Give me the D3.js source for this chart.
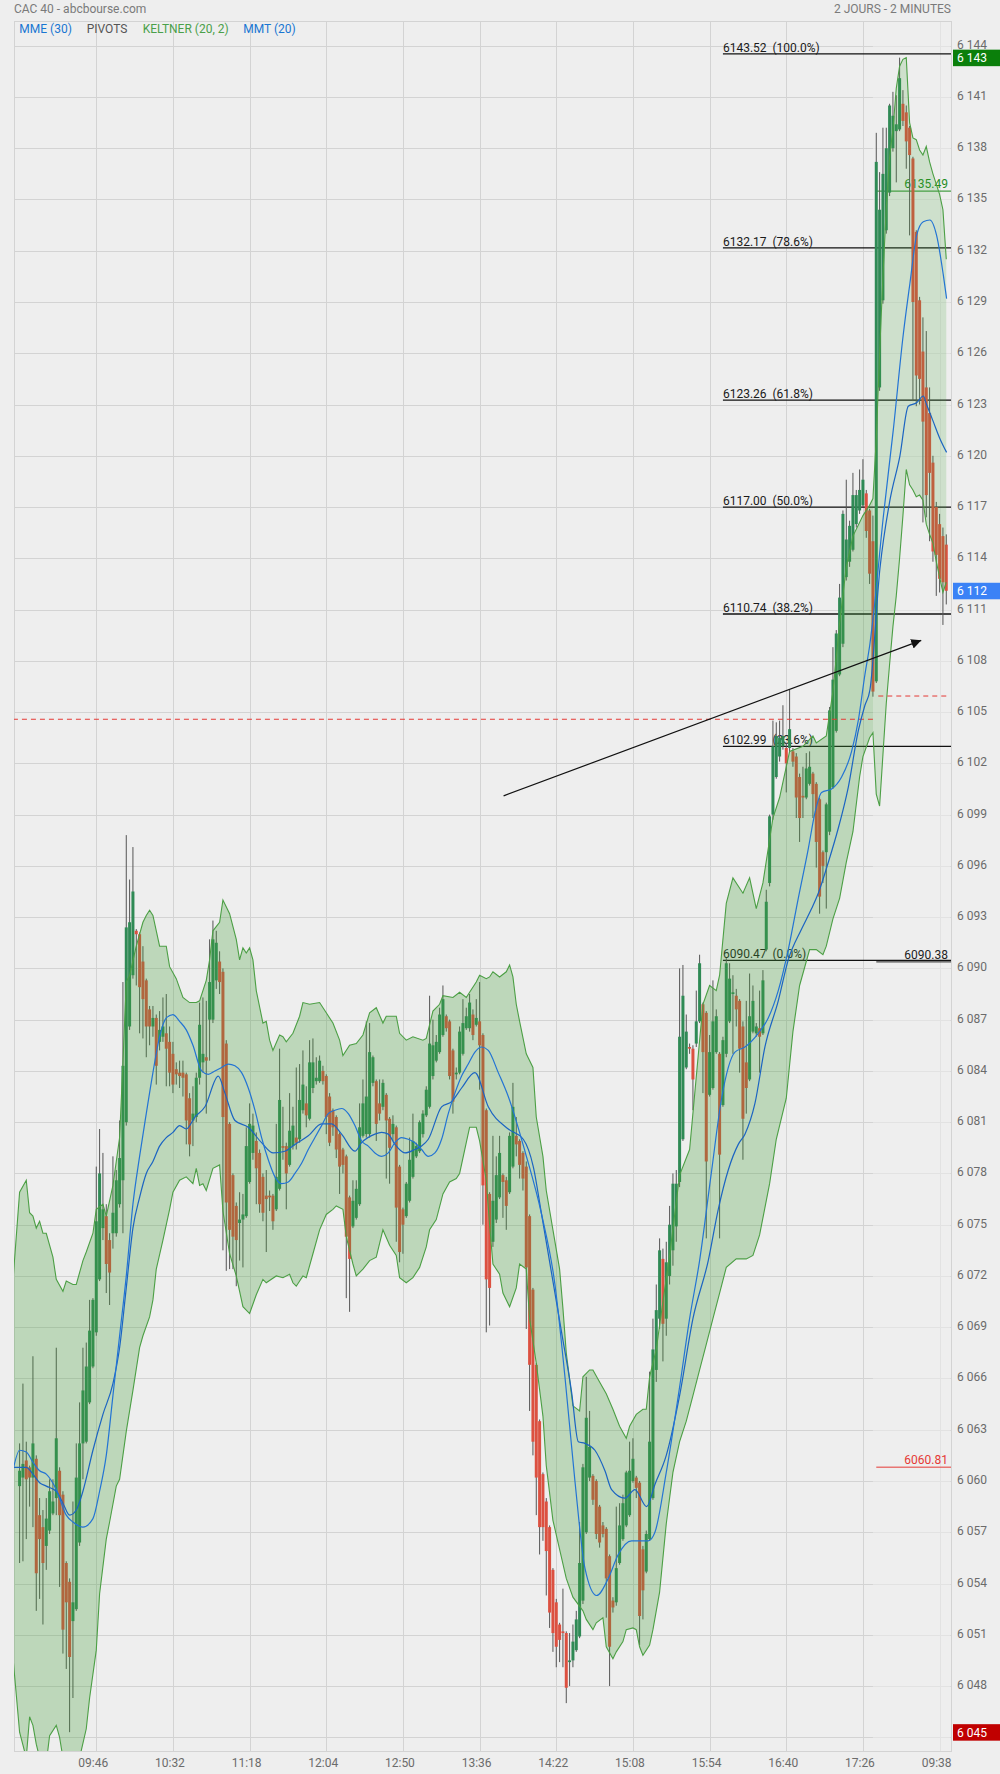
<!DOCTYPE html>
<html><head><meta charset="utf-8">
<script src="https://cdn.jsdelivr.net/npm/d3@7"></script>
<style>
body{margin:0;background:#eeeeee;}
svg{display:block;font-family:Roboto,"Noto Sans",sans-serif;}
</style>
</head><body><svg id="c" width="1000" height="1774"></svg>
<script>
// ---------------- DATA ----------------
const openP = [6059.7,6060.2,6061.2,6060.8,6060.2,6061.3,6058.0,6057.3,6056.2,6057.1,6058.1,6059.0,6060.6,6059.2,6055.2,6054.1,6051.8,6052.5,6056.4,6062.2,
6062.3,6064.6,6066.7,6068.7,6071.8,6074.8,6075.5,6074.1,6074.5,6074.5,6076.2,6077.6,6081.0,6086.6,6089.6,6092.2,6092.0,6090.4,6089.3,6087.6,
6086.6,6087.1,6085.7,6086.0,6086.2,6085.7,6085.0,6084.1,6083.9,6083.9,6083.8,6082.4,6081.1,6081.3,6083.6,6084.5,6084.8,6087.0,6087.0,6089.3,
6090.4,6089.8,6085.6,6080.9,6077.9,6076.1,6075.1,6075.3,6075.5,6077.5,6079.2,6079.9,6079.2,6077.8,6076.7,6076.7,6076.7,6075.9,6077.1,6079.6,
6079.6,6078.5,6079.6,6080.1,6080.0,6081.7,6082.1,6081.2,6083.0,6083.4,6083.4,6084.0,6083.7,6082.5,6081.7,6081.3,6080.3,6079.4,6079.0,6076.6,
6074.9,6075.4,6076.2,6080.2,6080.3,6080.3,6083.3,6083.4,6082.1,6081.9,6082.6,6081.2,6080.3,6080.7,6078.4,6075.9,6075.5,6076.4,6077.8,6079.0,
6079.3,6080.3,6081.4,6081.9,6083.7,6084.6,6085.1,6086.1,6087.2,6086.9,6085.2,6083.8,6083.9,6085.0,6086.5,6086.5,6087.3,6086.7,6086.9,6086.1,
6081.7,6076.8,6074.0,6075.3,6076.6,6077.9,6077.6,6076.9,6078.4,6080.2,6079.9,6079.2,6078.4,6075.5,6071.2,6066.8,6063.5,6060.4,6058.8,6057.3,
6054.8,6052.9,6051.6,6051.2,6051.1,6049.4,6049.5,6050.1,6050.9,6053.0,6057.0,6060.2,6060.3,6060.0,6058.5,6057.4,6057.2,6055.6,6053.0,6052.9,
6055.2,6056.6,6057.4,6058.0,6060.0,6060.2,6059.9,6056.0,6054.7,6056.6,6059.0,6066.5,6069.5,6073.0,6069.5,6072.0,6073.5,6074.9,6077.5,6080.0,
6084.2,6085.4,6085.3,6085.6,6086.9,6087.9,6087.4,6082.6,6083.0,6085.1,6085.0,6082.0,6085.0,6086.9,6088.5,6088.4,6088.1,6086.6,6084.5,6083.5,
6086.3,6086.2,6086.5,6086.2,6091.1,6095.0,6099.0,6101.2,6102.4,6103.0,6102.9,6102.9,6102.7,6102.4,6101.2,6100.1,6100.0,6100.8,6101.4,6100.8,
6099.9,6096.8,6096.8,6098.0,6100.6,6103.9,6107.2,6109.0,6112.9,6113.8,6114.5,6116.0,6116.8,6117.1,6117.8,6116.8,6115.0,6106.8,6124.0,6129.1,
6133.2,6135.4,6138.0,6139.0,6139.1,6140.6,6140.1,6139.2,6137.4,6133.1,6129.1,6126.1,6124.0,6122.5,6119.6,6117.0,6116.0,6115.3,6114.8];

const highP = [6062.2,6065.7,6062.3,6060.9,6067.3,6061.5,6059.0,6058.3,6059.0,6060.1,6060.1,6067.8,6060.8,6059.4,6055.3,6054.3,6058.8,6062.2,6064.6,6067.8,
6068.1,6070.6,6070.7,6078.4,6080.6,6079.2,6076.2,6074.5,6079.0,6078.2,6081.1,6089.2,6097.8,6095.2,6097.1,6092.3,6092.1,6091.3,6089.4,6087.8,
6087.8,6087.3,6087.5,6088.3,6088.5,6086.6,6085.7,6084.5,6084.6,6084.6,6083.9,6082.7,6083.1,6083.9,6088.0,6088.3,6088.1,6091.7,6092.8,6092.2,
6091.0,6090.0,6085.8,6081.0,6078.0,6076.3,6076.9,6076.8,6080.7,6082.1,6081.5,6080.4,6079.4,6078.0,6078.2,6077.0,6076.8,6080.9,6085.3,6081.9,
6079.8,6082.7,6081.9,6084.2,6084.4,6085.2,6083.1,6085.8,6085.9,6084.8,6084.9,6084.3,6083.8,6082.7,6081.8,6081.4,6080.4,6079.5,6079.1,6076.7,
6077.6,6077.6,6082.1,6083.5,6086.9,6086.8,6084.9,6083.5,6083.5,6083.5,6082.7,6081.3,6081.4,6080.8,6078.5,6076.0,6077.5,6080.1,6081.5,6079.8,
6081.1,6081.7,6083.1,6088.4,6087.0,6086.1,6087.7,6089.0,6087.3,6087.0,6085.3,6084.2,6086.6,6088.2,6087.7,6088.5,6087.6,6088.2,6089.2,6086.2,
6081.8,6076.9,6080.2,6079.0,6080.2,6078.0,6077.8,6080.4,6083.3,6081.3,6080.0,6079.3,6078.7,6075.6,6071.3,6066.9,6063.6,6060.5,6059.0,6057.4,
6054.9,6053.1,6051.7,6053.7,6051.2,6051.1,6051.6,6052.4,6057.6,6061.0,6066.1,6064.1,6060.4,6060.1,6058.6,6057.6,6057.3,6055.7,6053.2,6058.5,
6058.7,6059.2,6060.6,6062.3,6062.5,6060.3,6060.0,6056.2,6057.1,6066.4,6069.5,6071.5,6074.2,6073.6,6074.0,6076.1,6078.0,6078.2,6090.0,6090.2,
6087.3,6085.6,6085.5,6088.7,6090.8,6088.0,6087.5,6086.1,6089.3,6087.6,6085.1,6086.0,6090.6,6090.3,6089.6,6088.8,6088.2,6086.9,6088.1,6089.7,
6089.0,6086.8,6088.7,6089.9,6094.6,6099.0,6104.5,6104.4,6104.5,6105.4,6103.2,6106.3,6102.9,6102.6,6101.4,6101.8,6102.6,6102.7,6101.5,6100.9,
6100.0,6096.9,6099.7,6105.3,6108.8,6109.8,6112.5,6116.8,6118.6,6116.2,6119.0,6118.0,6119.2,6119.8,6118.0,6116.9,6116.5,6138.9,6136.6,6139.2,
6139.2,6140.6,6141.3,6141.1,6143.3,6141.4,6140.5,6139.3,6137.5,6133.2,6129.3,6128.1,6127.3,6124.0,6120.0,6117.3,6116.6,6115.8,6115.4];

const lowP = [6055.2,6055.3,6056.6,6058.5,6057.3,6052.4,6053.1,6051.6,6054.8,6056.9,6058.0,6058.0,6053.8,6049.9,6049.0,6045.3,6047.3,6052.4,6056.2,6060.1,
6062.2,6064.5,6066.6,6068.5,6071.7,6074.1,6071.0,6070.3,6073.6,6074.3,6076.0,6074.5,6080.8,6086.4,6089.4,6089.0,6086.2,6085.9,6084.8,6085.5,
6086.0,6083.2,6085.2,6085.7,6083.1,6083.1,6082.7,6083.2,6083.0,6082.5,6079.7,6079.0,6079.6,6081.0,6083.2,6083.9,6081.5,6084.6,6086.8,6088.8,
6088.5,6073.5,6072.3,6072.4,6072.4,6071.4,6072.9,6072.5,6075.4,6077.4,6078.8,6076.2,6075.7,6075.2,6073.4,6075.8,6074.7,6075.8,6077.0,6078.8,
6075.9,6078.4,6079.4,6079.4,6079.8,6081.5,6080.7,6081.1,6082.7,6083.2,6083.3,6083.2,6080.3,6079.6,6080.2,6078.9,6076.8,6078.0,6070.7,6069.9,
6074.8,6075.3,6076.1,6080.1,6080.1,6080.1,6083.1,6079.9,6081.1,6081.7,6077.7,6077.4,6079.9,6074.0,6072.8,6073.3,6075.4,6076.3,6077.7,6078.9,
6079.2,6080.1,6081.3,6081.8,6083.5,6084.5,6085.0,6086.0,6086.3,6083.5,6081.5,6083.5,6083.8,6084.9,6086.4,6086.3,6085.8,6086.6,6082.9,6075.0,
6068.7,6069.1,6073.7,6075.1,6076.5,6075.4,6074.7,6076.8,6078.3,6079.0,6077.7,6077.0,6068.9,6064.1,6061.5,6058.0,6055.7,6056.5,6053.3,6051.4,
6050.0,6049.1,6049.4,6049.1,6047.0,6048.0,6049.1,6050.0,6050.8,6052.8,6056.9,6060.0,6058.6,6056.6,6056.1,6056.7,6052.0,6048.0,6052.3,6052.7,
6055.1,6056.5,6057.3,6057.9,6059.9,6059.0,6050.4,6051.9,6054.6,6056.5,6058.9,6065.8,6068.9,6067.0,6068.5,6071.5,6072.6,6074.0,6077.2,6079.9,
6084.1,6085.0,6081.7,6085.4,6086.8,6082.7,6074.2,6082.5,6082.9,6085.0,6074.2,6081.9,6084.8,6086.8,6085.0,6086.6,6083.9,6078.8,6081.5,6083.4,
6086.2,6086.0,6083.9,6086.1,6091.0,6094.8,6098.7,6101.1,6102.1,6102.8,6100.3,6102.7,6101.8,6098.8,6097.4,6098.8,6099.9,6100.7,6098.8,6095.9,
6093.2,6095.0,6093.5,6097.8,6100.5,6103.8,6107.1,6108.8,6112.7,6113.5,6114.4,6115.8,6116.6,6117.0,6115.2,6112.5,6105.9,6106.7,6123.8,6128.9,
6133.0,6135.2,6137.8,6136.0,6139.0,6139.3,6136.8,6132.9,6123.2,6122.9,6123.0,6116.1,6116.4,6115.0,6113.8,6111.8,6112.0,6110.1,6111.3];

const closeP = [6060.6,6061.0,6060.1,6060.2,6062.2,6054.6,6056.6,6055.2,6057.8,6059.4,6058.8,6062.5,6058.0,6051.3,6052.9,6049.7,6052.9,6060.2,6062.2,6065.3,
6066.7,6068.8,6070.6,6075.2,6078.0,6075.9,6072.7,6072.2,6075.7,6077.6,6078.9,6084.3,6092.4,6092.7,6094.5,6092.0,6088.9,6088.2,6086.6,6086.6,
6087.1,6084.3,6086.4,6086.6,6085.3,6083.9,6083.2,6083.8,6083.7,6083.6,6081.1,6079.7,6081.5,6083.6,6086.7,6085.0,6084.6,6089.2,6091.7,6091.5,
6089.2,6081.3,6076.3,6074.7,6074.3,6074.1,6075.3,6075.6,6079.6,6080.9,6080.8,6078.3,6076.2,6075.7,6076.5,6076.6,6075.2,6077.8,6082.3,6079.5,
6078.0,6080.5,6080.8,6079.8,6082.3,6083.2,6081.4,6084.5,6084.5,6083.6,6084.6,6083.4,6081.3,6079.8,6080.7,6079.4,6078.4,6078.5,6074.3,6073.0,
6076.4,6077.1,6080.7,6082.1,6082.5,6085.1,6084.8,6080.9,6081.5,6083.3,6081.1,6079.5,6080.9,6076.0,6073.4,6075.0,6077.4,6078.8,6079.9,6079.6,
6081.0,6081.5,6082.9,6085.6,6085.5,6085.7,6087.3,6088.2,6086.5,6083.7,6082.2,6083.9,6086.3,6086.8,6087.2,6088.0,6086.1,6087.1,6085.5,6077.3,
6071.8,6071.3,6076.4,6077.9,6079.2,6077.5,6076.1,6080.2,6081.9,6079.7,6078.5,6077.7,6072.5,6066.8,6062.3,6060.2,6057.3,6057.3,6055.9,6052.3,
6051.1,6050.3,6050.7,6051.1,6047.9,6049.5,6050.6,6051.9,6055.2,6060.8,6063.7,6062.0,6058.9,6056.9,6056.4,6056.9,6054.3,6050.3,6052.6,6054.9,
6057.4,6058.7,6060.5,6060.6,6061.3,6059.6,6052.1,6053.6,6056.9,6062.3,6067.7,6070.0,6073.5,6069.2,6072.8,6075.0,6077.4,6077.4,6086.0,6088.4,
6086.3,6085.3,6083.5,6086.9,6090.3,6085.1,6078.7,6085.1,6086.9,6087.2,6079.1,6085.8,6090.3,6089.4,6088.6,6087.6,6085.3,6081.2,6083.0,6087.2,
6088.1,6086.6,6086.0,6089.3,6093.9,6098.9,6103.0,6103.6,6103.5,6103.6,6102.0,6104.0,6102.1,6100.0,6098.8,6100.0,6101.7,6101.8,6100.2,6097.4,
6094.2,6096.0,6099.6,6105.1,6106.9,6109.6,6111.7,6116.6,6115.1,6115.9,6117.7,6117.7,6118.0,6118.6,6115.6,6113.1,6106.2,6137.2,6134.4,6136.5,
6138.0,6140.5,6139.9,6139.4,6142.1,6139.6,6138.4,6137.6,6129.0,6124.7,6124.5,6122.0,6117.7,6119.0,6114.4,6114.2,6112.8,6112.6,6112.1];

// Keltner (20, 2) band edges, [candle index, price]
const keltnerUpper = [[-2,6071.7],[0,6076.9],[2,6077.6],[3,6075.7],[4,6075.5],[5,6074.8],[6,6075.2],[7,6074.5],[8,6074.5],[10,6073.1],[11,6071.8],[13,6071.1],[14,6071.7],[16,6071.5],[17,6071.5],[19,6072.9],[20,6073.4],[22,6074.5],[23,6075.9],[25,6076.2],[26,6075.5],[28,6077.3],[29,6078.7],[30,6080.1],[31,6084.5],[32,6089.2],[33,6089.6],[35,6091.3],[37,6092.7],[38,6093.1],[39,6093.4],[40,6093.1],[42,6091.3],[44,6091.3],[45,6090.1],[47,6089.4],[49,6088.3],[51,6088.0],[53,6088.0],[54,6088.1],[56,6089.3],[57,6090.5],[58,6092.2],[60,6092.7],[61,6094.0],[63,6093.2],[65,6091.7],[66,6090.5],[67,6091.2],[68,6090.9],[69,6091.2],[70,6090.5],[71,6088.7],[73,6086.8],[74,6086.9],[75,6085.8],[76,6085.2],[78,6086.1],[79,6086.0],[80,6085.7],[82,6086.2],[84,6087.2],[85,6088.0],[87,6087.9],[90,6088.0],[92,6087.4],[94,6086.8],[96,6085.8],[97,6084.9],[99,6085.5],[101,6085.6],[103,6086.1],[105,6087.4],[107,6087.7],[109,6086.8],[110,6087.2],[113,6087.2],[114,6086.2],[116,6085.8],[118,6086.0],[121,6085.8],[122,6085.9],[124,6087.5],[126,6087.9],[127,6088.4],[130,6088.3],[132,6088.6],[134,6088.3],[135,6088.6],[137,6089.2],[138,6089.6],[140,6089.4],[141,6089.5],[142,6089.8],[144,6089.5],[146,6089.8],[147,6090.2],[148,6089.5],[149,6087.9],[150,6086.9],[152,6085.0],[154,6084.2],[155,6081.3],[157,6079.0],[158,6077.0],[160,6074.7],[162,6072.4],[163,6070.1],[164,6067.5],[166,6064.4],[168,6064.1],[169,6066.1],[171,6066.5],[172,6066.5],[174,6065.8],[176,6065.1],[178,6064.2],[180,6063.2],[182,6062.5],[183,6063.2],[185,6063.9],[187,6064.2],[188,6064.2],[189,6066.1],[191,6067.7],[193,6070.5],[195,6073.2],[198,6077.9],[201,6079.4],[205,6087.9],[207,6089.0],[209,6088.7],[210,6089.6],[212,6093.8],[214,6095.3],[217,6094.4],[219,6095.3],[221,6093.5],[223,6095.0],[226,6098.8],[228,6100.0],[231,6102.7],[235,6103.0],[238,6103.6],[239,6103.2],[242,6103.6],[244,6106.2],[246,6110.2],[248,6113.5],[250,6115.3],[253,6116.5],[255,6117.1],[256,6117.5],[257,6121.0],[258,6126.0],[259,6130.5],[260,6134.5],[261,6137.5],[262,6139.1],[263,6141.5],[264,6142.8],[265,6143.2],[266,6143.3],[267,6139.5],[268,6138.6],[269,6138.5],[270,6137.9],[271,6137.6],[272,6138.1],[273,6137.2],[274,6136.5],[275,6135.9],[276,6135.3],[277,6134.4],[278,6131.5]];
const keltnerLower = [[-2,6049.7],[0,6045.3],[2,6043.8],[3,6046.2],[4,6045.7],[5,6044.6],[6,6043.8],[8,6043.5],[9,6045.1],[11,6045.7],[12,6045.0],[13,6043.8],[15,6043.5],[17,6043.6],[18,6043.8],[20,6045.5],[21,6047.3],[23,6050.1],[24,6053.4],[26,6056.6],[27,6057.6],[29,6059.7],[30,6060.1],[32,6062.9],[34,6065.3],[36,6067.8],[37,6068.5],[39,6069.6],[40,6070.6],[41,6072.4],[43,6074.1],[45,6075.9],[46,6076.9],[48,6077.6],[50,6077.8],[52,6077.4],[53,6078.3],[54,6077.3],[55,6077.4],[56,6077.0],[58,6078.3],[60,6078.5],[61,6075.8],[63,6073.3],[65,6072.0],[67,6070.2],[69,6069.8],[71,6070.9],[73,6071.8],[74,6071.6],[77,6072.0],[79,6071.9],[81,6072.1],[82,6071.6],[83,6071.4],[85,6072.0],[86,6071.9],[88,6073.3],[90,6074.7],[92,6075.6],[94,6075.9],[95,6076.1],[97,6075.9],[98,6074.3],[100,6072.7],[101,6072.0],[103,6072.4],[105,6072.9],[107,6073.1],[108,6073.9],[109,6074.7],[111,6073.8],[113,6073.2],[114,6071.9],[116,6071.6],[118,6071.9],[120,6072.5],[122,6073.7],[123,6074.7],[125,6075.3],[127,6076.8],[129,6077.5],[131,6077.7],[132,6078.0],[134,6079.8],[135,6080.7],[137,6080.7],[138,6079.9],[140,6077.6],[141,6075.0],[142,6072.7],[144,6072.1],[145,6071.0],[147,6070.2],[149,6071.3],[150,6072.7],[152,6072.4],[153,6069.5],[155,6066.9],[157,6063.8],[158,6060.9],[160,6057.7],[162,6056.0],[164,6054.3],[166,6053.2],[169,6052.4],[170,6051.9],[172,6051.3],[173,6051.7],[175,6052.0],[176,6050.3],[178,6049.6],[179,6050.0],[181,6050.6],[182,6051.3],[184,6051.4],[185,6051.3],[186,6050.3],[187,6049.8],[189,6050.4],[190,6051.3],[192,6053.5],[194,6057.5],[196,6060.5],[198,6062.3],[200,6063.5],[202,6065.0],[204,6066.5],[206,6068.0],[208,6069.5],[210,6071.0],[212,6072.5],[215,6073.0],[218,6073.0],[220,6073.2],[222,6074.4],[225,6077.4],[227,6080.0],[230,6082.4],[232,6086.3],[234,6089.0],[237,6091.1],[239,6091.1],[241,6090.8],[242,6091.3],[244,6092.9],[246,6094.1],[248,6096.2],[250,6098.0],[252,6101.2],[253,6102.4],[255,6103.5],[256,6103.8],[257,6100.2],[258,6099.5],[259,6102.5],[260,6105.5],[261,6107.8],[262,6110.0],[263,6111.8],[264,6114.0],[265,6116.5],[266,6119.2],[267,6118.3],[268,6118.0],[269,6117.6],[270,6117.7],[271,6117.4],[272,6116.0],[273,6115.4],[274,6114.9],[275,6113.8],[276,6112.9],[277,6112.0],[278,6112.6]];

// MMT (20)
const mmtLine = [[-2,6060.6],[0,6061.8],[2,6061.7],[4,6061.1],[6,6060.6],[8,6060.4],[11,6059.5],[14,6058.0],[16,6057.6],[19,6057.3],[22,6057.8],[24,6059.4],[26,6061.5],[28,6065.0],[30,6068.5],[32,6072.0],[34,6076.2],[36,6079.0],[38,6081.5],[40,6083.9],[42,6086.0],[44,6087.1],[46,6087.3],[48,6086.9],[50,6086.4],[52,6085.5],[54.6,6084.0],[56.6,6083.8],[58.6,6084.0],[60.6,6084.2],[62.6,6084.4],[64.6,6084.3],[66.6,6083.9],[68.6,6083.0],[70.6,6081.7],[72.6,6080.1],[74.6,6078.8],[76.6,6077.8],[78.6,6077.4],[80.6,6077.5],[82.6,6078.0],[84.6,6078.6],[86.6,6079.4],[88.6,6080.1],[90.6,6080.8],[92.6,6081.5],[94.6,6081.7],[96.6,6081.8],[98.6,6081.5],[100.6,6080.8],[102.6,6079.9],[104.6,6079.6],[106.6,6079.2],[108.6,6079.0],[110.6,6079.2],[112.6,6079.8],[114.6,6080.1],[116.6,6080.0],[118.6,6079.8],[120.6,6079.4],[122.6,6079.0],[124.6,6079.2],[126.6,6080.0],[128.6,6081.5],[130.6,6082.7],[132.6,6083.7],[134.6,6084.4],[136.6,6085.1],[138.6,6085.4],[140.6,6085.2],[143.6,6083.9],[146.6,6082.5],[151.6,6079.3],[156.6,6075.6],[160.6,6071.5],[163.6,6066.1],[166.6,6060.0],[169.6,6054.9],[173.1,6053.3],[176.6,6054.3],[179.6,6055.7],[183.6,6056.5],[188.6,6056.5],[190.6,6057.0],[194,6060.5],[198,6065.5],[201,6069.5],[204,6072.9],[207.5,6078.0],[210.6,6082.4],[214.6,6085.1],[217.6,6085.4],[221.6,6086.2],[224.6,6087.1],[227.6,6088.7],[230.6,6091.1],[233.6,6094.1],[236.6,6097.0],[238.6,6099.1],[240.6,6100.3],[243.6,6100.5],[246.6,6101.2],[249.6,6102.7],[251.6,6104.5],[253.6,6107.2],[255.1,6109.0],[256.1,6110.6],[259.1,6116.4],[262.1,6121.5],[265.1,6127.1],[267.1,6130.1],[269.1,6132.9],[271.1,6133.7],[273.1,6133.8],[275.1,6132.9],[277.1,6130.6],[278.1,6129.2]];
// MME (30)
const mmeLine = [[-2,6060.8],[2,6060.8],[4,6060.4],[6,6059.9],[8,6059.7],[11,6059.4],[13,6058.7],[15,6058.0],[17,6058.3],[19,6059.4],[22,6061.8],[25,6063.9],[28,6065.7],[30,6067.8],[32,6071.3],[34,6074.8],[36,6076.6],[38,6078.0],[40,6078.7],[42,6079.6],[44,6080.1],[46,6080.4],[48,6080.8],[50,6080.6],[52.6,6081.3],[55.6,6081.9],[59.6,6083.7],[61.6,6082.7],[64.6,6081.1],[68.6,6080.7],[72.6,6079.8],[76.1,6079.2],[79.6,6079.3],[82.6,6079.7],[86.6,6080.2],[90.6,6080.9],[93.6,6080.9],[96.6,6080.3],[100.6,6079.3],[102.6,6079.8],[106.6,6080.3],[108.6,6080.4],[110.6,6080.3],[112.6,6079.7],[115.6,6079.2],[118.6,6079.4],[120.6,6079.6],[122.6,6080.0],[126.6,6081.9],[129.6,6082.2],[132.6,6083.0],[136.6,6083.9],[140.6,6081.9],[146.6,6080.6],[151.1,6080.0],[154.1,6078.4],[156.6,6075.6],[162.6,6068.7],[165.6,6065.2],[167.6,6062.3],[169.6,6062.2],[172.6,6061.8],[175.6,6060.6],[177.6,6059.5],[181.6,6059.0],[184.6,6059.5],[188.1,6058.5],[190.6,6059.8],[194,6061.5],[198,6065.0],[202,6069.5],[206.6,6072.9],[209.6,6075.9],[212.6,6078.2],[215.6,6079.7],[217.6,6080.3],[220.6,6082.1],[223.6,6085.4],[227.6,6088.1],[230.6,6090.5],[234.6,6092.3],[237.6,6093.5],[239.6,6094.4],[242.6,6096.2],[245.6,6098.2],[248.6,6100.6],[251.6,6103.9],[253.6,6105.4],[255.1,6106.3],[258.1,6113.4],[261.1,6117.4],[264.1,6120.0],[266.6,6122.9],[269.1,6123.1],[271.1,6123.5],[272.1,6123.0],[274.1,6122.0],[276.1,6121.0],[278.1,6120.2]];

// Fibonacci retracement
const fibValues = [6143.52, 6132.17, 6123.26, 6117.00, 6110.74, 6102.99, 6090.47];
const fibLabels = ["100.0%", "78.6%", "61.8%", "50.0%", "38.2%", "23.6%", "0.0%"];
const fibStartIdx = 211;

// Pivots (day 2)
const pivotValues = [6135.49, 6090.38, 6060.81];
const pivotColors = ["#1e8c1e", "#222222", "#e53935"];
const pivotStartIdx = 257;

// Previous closes (red dashed)
const prevCloseValues = [6104.58, 6105.94];
const prevCloseRanges = [[-2, 256], [257.6, 278]];

// Trend arrow [index, price]
const arrowPts = [[145.2, 6100.1], [270.5, 6109.2]];

const xTickIdx = [23, 46, 69, 92, 115, 138, 161, 184, 207, 230, 253, 276];
const xTickLabels = ["09:46","10:32","11:18","12:04","12:50","13:36","14:22","15:08","15:54","16:40","17:26","09:38"];
const yTicks = [6144,6141,6138,6135,6132,6129,6126,6123,6120,6117,6114,6111,6108,6105,6102,6099,6096,6093,6090,6087,6084,6081,6078,6075,6072,6069,6066,6063,6060,6057,6054,6051,6048,6045];

const dayBreakIdx = 256;
const lastPrice = 6112.1, dayHigh = 6143.3, periodLow = 6045.3;

// ---------------- DRAW ----------------
const svg = d3.select("#c");
const P = {l:14, r:951, t:21, b:1751};
const x = d3.scaleLinear().domain([0, 276]).range([19.6, 939.6]);
const y = d3.scaleLinear().domain([6045, 6144]).range([1737.3, 45.7]);
const fmt = v => String(v).replace(/\B(?=(\d{3})+(?!\d))/g, " ");

svg.append("rect").attr("width",1000).attr("height",1774).attr("fill","#eeeeee");

const defs = svg.append("defs");
defs.append("clipPath").attr("id","plot").append("rect").attr("x",P.l).attr("y",P.t).attr("width",P.r-P.l).attr("height",P.b-P.t);
defs.append("clipPath").attr("id","d1").append("rect").attr("x",P.l).attr("y",P.t).attr("width",x(dayBreakIdx)-P.l).attr("height",P.b-P.t);
defs.append("clipPath").attr("id","d2").append("rect").attr("x",x(dayBreakIdx)).attr("y",P.t).attr("width",P.r-x(dayBreakIdx)).attr("height",P.b-P.t);

// grid
const grid = svg.append("g").attr("stroke","#d3d3d3").attr("stroke-width",1).attr("shape-rendering","crispEdges");
yTicks.forEach(v => grid.append("line").attr("x1",P.l).attr("x2",P.r).attr("y1",Math.round(y(v))+0.5).attr("y2",Math.round(y(v))+0.5));
xTickIdx.forEach(i => grid.append("line").attr("x1",Math.round(x(i))+0.5).attr("x2",Math.round(x(i))+0.5).attr("y1",P.t).attr("y2",P.b));
grid.append("rect").attr("x",P.l+0.5).attr("y",P.t+0.5).attr("width",P.r-P.l).attr("height",P.b-P.t).attr("fill","none");
// lighter day-2 region
svg.append("rect").attr("x",x(dayBreakIdx)).attr("y",P.t+1).attr("width",P.r-x(dayBreakIdx)-0.5).attr("height",P.b-P.t-1)
  .attr("fill","#eeeeee").attr("opacity",0.55);

const chart = svg.append("g").attr("clip-path","url(#plot)");

// fib lines & labels
const fibG = chart.append("g");
fibValues.forEach((v,k) => {
  const yy = y(v);
  fibG.append("line").attr("x1",x(fibStartIdx)).attr("x2",P.r).attr("y1",yy).attr("y2",yy).attr("stroke","#111").attr("stroke-width",1.3);
  fibG.append("text").attr("x",x(fibStartIdx)).attr("y",yy-2).attr("font-size",12).attr("fill","#1a1a1a")
    .text(v.toFixed(2)+"\u00a0\u00a0("+fibLabels[k]+")");
});
// pivots
pivotValues.forEach((v,k) => {
  const yy = y(v);
  fibG.append("line").attr("x1",x(pivotStartIdx)).attr("x2",P.r).attr("y1",yy).attr("y2",yy).attr("stroke",pivotColors[k]).attr("stroke-width",1);
  fibG.append("text").attr("x",948).attr("y",yy-3).attr("text-anchor","end").attr("font-size",12).attr("fill",pivotColors[k]).text(v.toFixed(2));
});

// candles
const candles = d3.range(openP.length).map(i => ({i, o:openP[i], h:highP[i], l:lowP[i], c:closeP[i]}));
const cg = chart.append("g");
cg.selectAll("line.w").data(candles).join("line").attr("class","w")
  .attr("x1",d=>x(d.i)).attr("x2",d=>x(d.i)).attr("y1",d=>y(d.h)).attr("y2",d=>y(d.l))
  .attr("stroke","#555").attr("stroke-width",1);
cg.selectAll("rect.b").data(candles).join("rect").attr("class","b")
  .attr("x",d=>x(d.i)-1.5).attr("width",3)
  .attr("y",d=>y(Math.max(d.o,d.c)))
  .attr("height",d=>Math.max(1.2, Math.abs(y(d.o)-y(d.c))))
  .attr("fill",d=> d.c>=d.o ? "#2f8a55" : "#dc5040");

// Keltner band
const bandPts = keltnerUpper.concat(keltnerLower.slice().reverse());
const bandPath = d3.line().x(d=>x(d[0])).y(d=>y(d[1]))(bandPts) + "Z";
chart.append("path").attr("d",bandPath).attr("fill","rgb(70,160,60)").attr("fill-opacity",0.29).attr("clip-path","url(#d1)");
chart.append("path").attr("d",bandPath).attr("fill","rgb(70,165,60)").attr("fill-opacity",0.19).attr("clip-path","url(#d2)");
const edge = d3.line().x(d=>x(d[0])).y(d=>y(d[1]));
[keltnerUpper, keltnerLower].forEach(arr => chart.append("path").attr("d",edge(arr)).attr("fill","none").attr("stroke","#4c9f45").attr("stroke-width",1.1));

// previous close dashed
prevCloseValues.forEach((v,k) => {
  chart.append("line").attr("x1",x(prevCloseRanges[k][0])).attr("x2",x(prevCloseRanges[k][1]))
    .attr("y1",y(v)).attr("y2",y(v)).attr("stroke","#e53935").attr("stroke-width",1).attr("stroke-dasharray","5,4");
});

// moving averages
const ma = d3.line().x(d=>x(d[0])).y(d=>y(d[1])).curve(d3.curveMonotoneX);
chart.append("path").attr("d",ma(mmeLine)).attr("fill","none").attr("stroke","#1b64c2").attr("stroke-width",1.2);
chart.append("path").attr("d",ma(mmtLine)).attr("fill","none").attr("stroke","#2374d4").attr("stroke-width",1.2);

// arrow
defs.append("marker").attr("id","ah").attr("viewBox","0 0 10 10").attr("refX",10).attr("refY",5)
  .attr("markerWidth",10).attr("markerHeight",10).attr("markerUnits","userSpaceOnUse").attr("orient","auto")
  .append("path").attr("d","M0,0L10,5L0,10Z").attr("fill","#111");
chart.append("line").attr("x1",x(arrowPts[0][0])).attr("y1",y(arrowPts[0][1]))
  .attr("x2",x(arrowPts[1][0])).attr("y2",y(arrowPts[1][1]))
  .attr("stroke","#111").attr("stroke-width",1.2).attr("marker-end","url(#ah)");

// value boxes (drawn on the axis; tick labels they cover are skipped)
const boxes = [[dayHigh,"#0b7f0b"],[lastPrice,"#3b82f6"],[periodLow,"#c00000"]];
// y axis labels
const ya = svg.append("g").attr("font-size",12).attr("fill","#6b6b6b");
yTicks.forEach(v => {
  const covered = boxes.some(([bv]) => Math.abs(y(v) - y(bv)) < 10);
  if (!covered) ya.append("text").attr("x",957).attr("y",y(v)+3).text(fmt(v));
});
boxes.forEach(([v,col]) => {
  const yy = y(v);
  svg.append("rect").attr("x",953).attr("y",yy-8).attr("width",47).attr("height",16.5).attr("fill",col);
  svg.append("text").attr("x",957).attr("y",yy+4.5).attr("font-size",12).attr("fill","#fff").text(fmt(Math.round(v)));
});

// x axis labels
const xa = svg.append("g").attr("font-size",12).attr("fill","#6b6b6b").attr("text-anchor","middle");
xTickIdx.forEach((i,k) => xa.append("text").attr("x",x(i)-3).attr("y",1767).text(xTickLabels[k]));

// title & legend
svg.append("text").attr("x",14).attr("y",12.5).attr("font-size",12).attr("fill","#7a7a7a").text("CAC 40 - abcbourse.com");
svg.append("text").attr("x",951).attr("y",12.5).attr("font-size",12).attr("fill","#7a7a7a").attr("text-anchor","end").text("2 JOURS - 2 MINUTES");
const legend = [["MME (30)","#1976d2",19.3],["PIVOTS","#555555",86.7],["KELTNER (20, 2)","#4aa04a",142.7],["MMT (20)","#1976d2",243.3]];
legend.forEach(([t,c,lx]) => svg.append("text").attr("x",lx).attr("y",33).attr("font-size",12).attr("fill",c).text(t));
</script>
</body></html>
